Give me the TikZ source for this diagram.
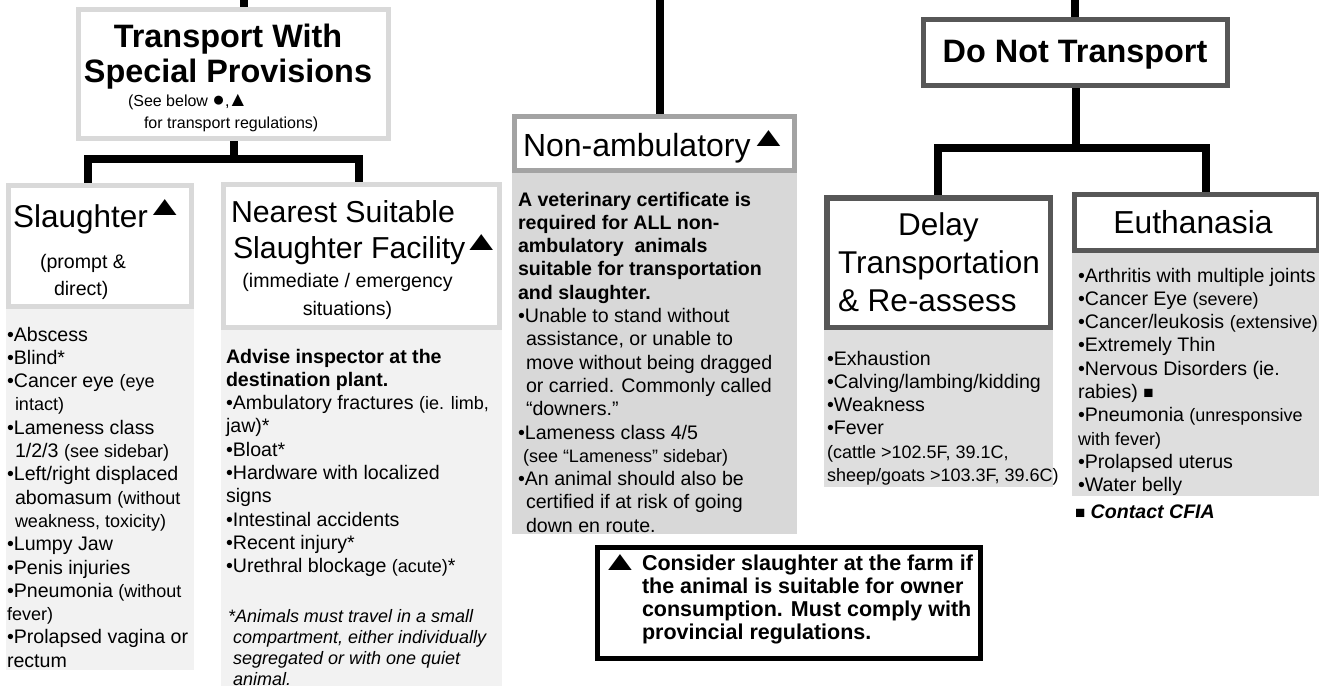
\documentclass[tikz,border=0pt]{standalone}
\usepackage{graphicx}
\usepackage{fontspec}
\setmainfont{Liberation Sans}
\pgfdeclarelayer{bg}
\pgfsetlayers{bg,main}
\definecolor{bl}{HTML}{D9D9D9}
\definecolor{bm}{HTML}{A3A3A3}
\definecolor{bd}{HTML}{575757}
\definecolor{pl}{HTML}{F2F2F2}
\definecolor{pm}{HTML}{D8D8D8}
\definecolor{pd}{HTML}{DEDEDE}
\newcommand{\ftitle}{\fontsize{31.5}{36}\selectfont}
\newcommand{\fbold}{\bfseries\fontsize{32.4}{35}\selectfont}
\newcommand{\fbody}{\fontsize{19.6}{23.3}\selectfont}
\newcommand{\fsmall}{\fontsize{18}{23.3}\selectfont}
\newcommand{\fsub}{\fontsize{16}{21}\selectfont}
\newcommand{\bigtri}{{\fontsize{26}{26}\selectfont\scalebox{1.55}[1.05]{▲}}}
\newcommand{\tri}[1]{\raisebox{#1}{\bigtri}}
\newcommand{\smtri}{\scalebox{1.3}{▲}}
\newcommand{\smdot}{\scalebox{1.3}{●}}
\tikzset{
  conn/.style={draw=black, line width=8pt},
  frame/.style={rectangle, draw, line width=5pt, fill=white},
  panel/.style={rectangle, anchor=north west},
  txt/.style={align=left, anchor=north west},
}
\begin{document}
\begin{tikzpicture}[x=1pt, y=-1pt, every node/.style={inner sep=0pt, outer sep=0pt}]
\useasboundingbox (0,0) rectangle (1319,685);

% panels
\node[panel, fill=pl, minimum width=188pt, minimum height=363pt] (slp) at (6,307) {};
\node[panel, fill=pl, minimum width=281pt, minimum height=360pt] (nfp) at (221,328) {};
\node[panel, fill=pm, minimum width=285pt, minimum height=363pt] (nap) at (512,171) {};
\node[panel, fill=pd, minimum width=229pt, minimum height=159pt] (dlp) at (824,328) {};
\node[panel, fill=pd, minimum width=247pt, minimum height=245pt] (eup) at (1072,251) {};

% boxes
\node[frame, draw=bl, minimum width=310pt, minimum height=129pt] (t1) at (233.5,74) {};
\node[frame, draw=bl, minimum width=183pt, minimum height=121pt] (sl) at (100,246) {};
\node[frame, draw=bl, minimum width=276pt, minimum height=143pt] (nf) at (361.5,256) {};
\node[frame, draw=bm, minimum width=280pt, minimum height=54pt] (na) at (654.5,143.5) {};
\node[frame, draw=bd, minimum width=304pt, minimum height=66pt] (dn) at (1075.5,52.5) {};
\node[frame, draw=bd, line width=5.5pt, minimum width=223.5pt, minimum height=129.5pt] (dl) at (938.5,262.5) {};
\node[frame, draw=bd, minimum width=244pt, minimum height=56pt] (eu) at (1196.5,222.5) {};
\node[frame, draw=black, minimum width=383pt, minimum height=111pt] (cs) at (789,603) {};

% connector coordinates
\coordinate (e1) at (244,0);
\coordinate (e2) at (660,0);
\coordinate (e3) at (1075,0);
\coordinate (j1) at (88,159);
\coordinate (j2) at (359,159);
\coordinate (j3) at (938,148);
\coordinate (j4) at (1206,148);

\begin{pgfonlayer}{bg}
\fill[white] (0,0) rectangle (1319,685);
\draw[conn] (e1) -- (e1 |- t1.north);
\draw[conn] (t1.south) -- (t1.south |- j1);
\draw[conn] (j1 |- sl.north) -- (j1) -- (j2) -- (j2 |- nf.north);
\draw[conn] (e2) -- (e2 |- na.north);
\draw[conn] (e3) -- (e3 |- dn.north);
\draw[conn] (dn.south) -- (dn.south |- j3);
\draw[conn] (j3 |- dl.north) -- (j3) -- (j4) -- (j4 |- eu.north);
\end{pgfonlayer}

% titles
\node[anchor=north, align=center, font=\fbold] (t1t) at (228,17)
  {\rule{0pt}{30pt}Transport With\\Special Provisions};
\node[txt, font=\fsub] (t1s) at (128,89)
  {\rule{0pt}{18pt}(See below \smdot,\hspace{-2pt}\smtri\\\hspace*{16pt}for transport regulations)};

\node[anchor=base west, font=\ftitle] (slt) at (13,227) {Slaughter\hspace{-3pt}\tri{12pt}};
\node[txt, font=\fontsize{19.6}{27}\selectfont] (sls) at (40,246)
  {\rule{0pt}{22pt}(prompt \&\\\hspace*{14pt}direct)};

\node[txt, font=\fontsize{30.3}{36}\selectfont] (nft) at (231,192)
  {\rule{0pt}{30pt}Nearest Suitable\\\hspace*{2pt}Slaughter Facility\hspace{-4pt}\tri{8pt}};
\node[anchor=north, align=center, font=\fontsize{19.6}{28}\selectfont] (nfs) at (347.5,265)
  {\rule{0pt}{22pt}(immediate / emergency\\situations)};

\node[anchor=base west, font=\fontsize{32}{36}\selectfont] (nat) at (523,156) {Non-ambulatory\hspace{-2pt}\tri{10pt}};

\node[anchor=base, font=\fbold] (dnt) at (1075,63) {Do Not Transport};

\node[txt, font=\fontsize{31.5}{38}\selectfont] (dlt) at (838,205)
  {\rule{0pt}{30pt}\hspace*{60pt}Delay\\Transportation\\\& Re-assess};

\node[anchor=base, font=\fontsize{31.8}{36}\selectfont] (eut) at (1193,233) {Euthanasia};

% panel texts
\node[txt, font=\fbody] (slx) at (7,319)
  {\rule{0pt}{22pt}•Abscess\\
   •Blind*\\
   •Cancer eye {\fsmall (eye}\\
   \hspace*{8pt}{\fsmall intact)}\\
   •Lameness class\\
   \hspace*{8pt}1/2/3 {\fsmall (see sidebar)}\\
   •Left/right displaced\\
   \hspace*{8pt}abomasum {\fsmall (without}\\
   \hspace*{8pt}{\fsmall weakness, toxicity)}\\
   •Lumpy Jaw\\
   •Penis injuries\\
   •Pneumonia {\fsmall (without}\\
   {\fsmall fever)}\\
   •Prolapsed vagina or\\
   rectum};

\node[txt, font=\fbody] (nfx) at (226,341)
  {\rule{0pt}{22pt}{\bfseries Advise inspector at the}\\
   {\bfseries destination plant.}\\
   •Ambulatory fractures {\fsmall (ie. limb,}\\
   jaw)*\\
   •Bloat*\\
   •Hardware with localized\\
   signs\\
   •Intestinal accidents\\
   •Recent injury*\\
   •Urethral blockage {\fsmall (acute)}*};

\node[txt, font=\itshape\fontsize{18}{21.3}\selectfont] (nfn) at (228,602)
  {\rule{0pt}{20pt}*Animals must travel in a small\\
   \hspace*{5pt}compartment, either individually\\
   \hspace*{5pt}segregated or with one quiet\\
   \hspace*{5pt}animal.};

\node[txt, font=\fbody] (nax) at (518,184)
  {\rule{0pt}{22pt}{\bfseries A veterinary certificate is}\\
   {\bfseries required for ALL non-}\\
   {\bfseries ambulatory\ \ animals}\\
   {\bfseries suitable for transportation}\\
   {\bfseries and slaughter.}\\
   •Unable to stand without\\
   \hspace*{8pt}assistance, or unable to\\
   \hspace*{8pt}move without being dragged\\
   \hspace*{8pt}or carried. Commonly called\\
   \hspace*{8pt}“downers.”\\
   •Lameness class 4/5\\
   \hspace*{5pt}{\fsmall (see “Lameness” sidebar)}\\
   •An animal should also be\\
   \hspace*{8pt}certified if at risk of going\\
   \hspace*{8pt}down en route.};

\node[txt, font=\fbody] (dlx) at (827,343)
  {\rule{0pt}{22pt}•Exhaustion\\
   •Calving/lambing/kidding\\
   •Weakness\\
   •Fever\\
   {\fsmall (cattle >102.5F, 39.1C,}\\
   {\fsmall sheep/goats >103.3F, 39.6C)}};

\node[txt, font=\fbody] (eux) at (1078,260)
  {\rule{0pt}{22pt}•Arthritis with multiple joints\\
   •Cancer Eye {\fsmall (severe)}\\
   •Cancer/leukosis {\fsmall (extensive)}\\
   •Extremely Thin\\
   •Nervous Disorders (ie.\\
   rabies) {\fontsize{17}{17}\selectfont ■}\\
   •Pneumonia {\fsmall (unresponsive}\\
   {\fsmall with fever)}\\
   •Prolapsed uterus\\
   •Water belly};

\node[anchor=base west, font=\fbody] (cfia) at (1075,518)
  {{\fontsize{17}{17}\selectfont ■} {\bfseries\itshape Contact CFIA}};

\node[txt, font=\bfseries\fontsize{21.5}{23}\selectfont] (csx) at (610,546)
  {\rule{0pt}{24pt}\makebox[32pt][l]{\hspace*{-10pt}\bigtri}Consider slaughter at the farm if\\
   \hspace*{32pt}the animal is suitable for owner\\
   \hspace*{32pt}consumption. Must comply with\\
   \hspace*{32pt}provincial regulations.};
\end{tikzpicture}
\end{document}
